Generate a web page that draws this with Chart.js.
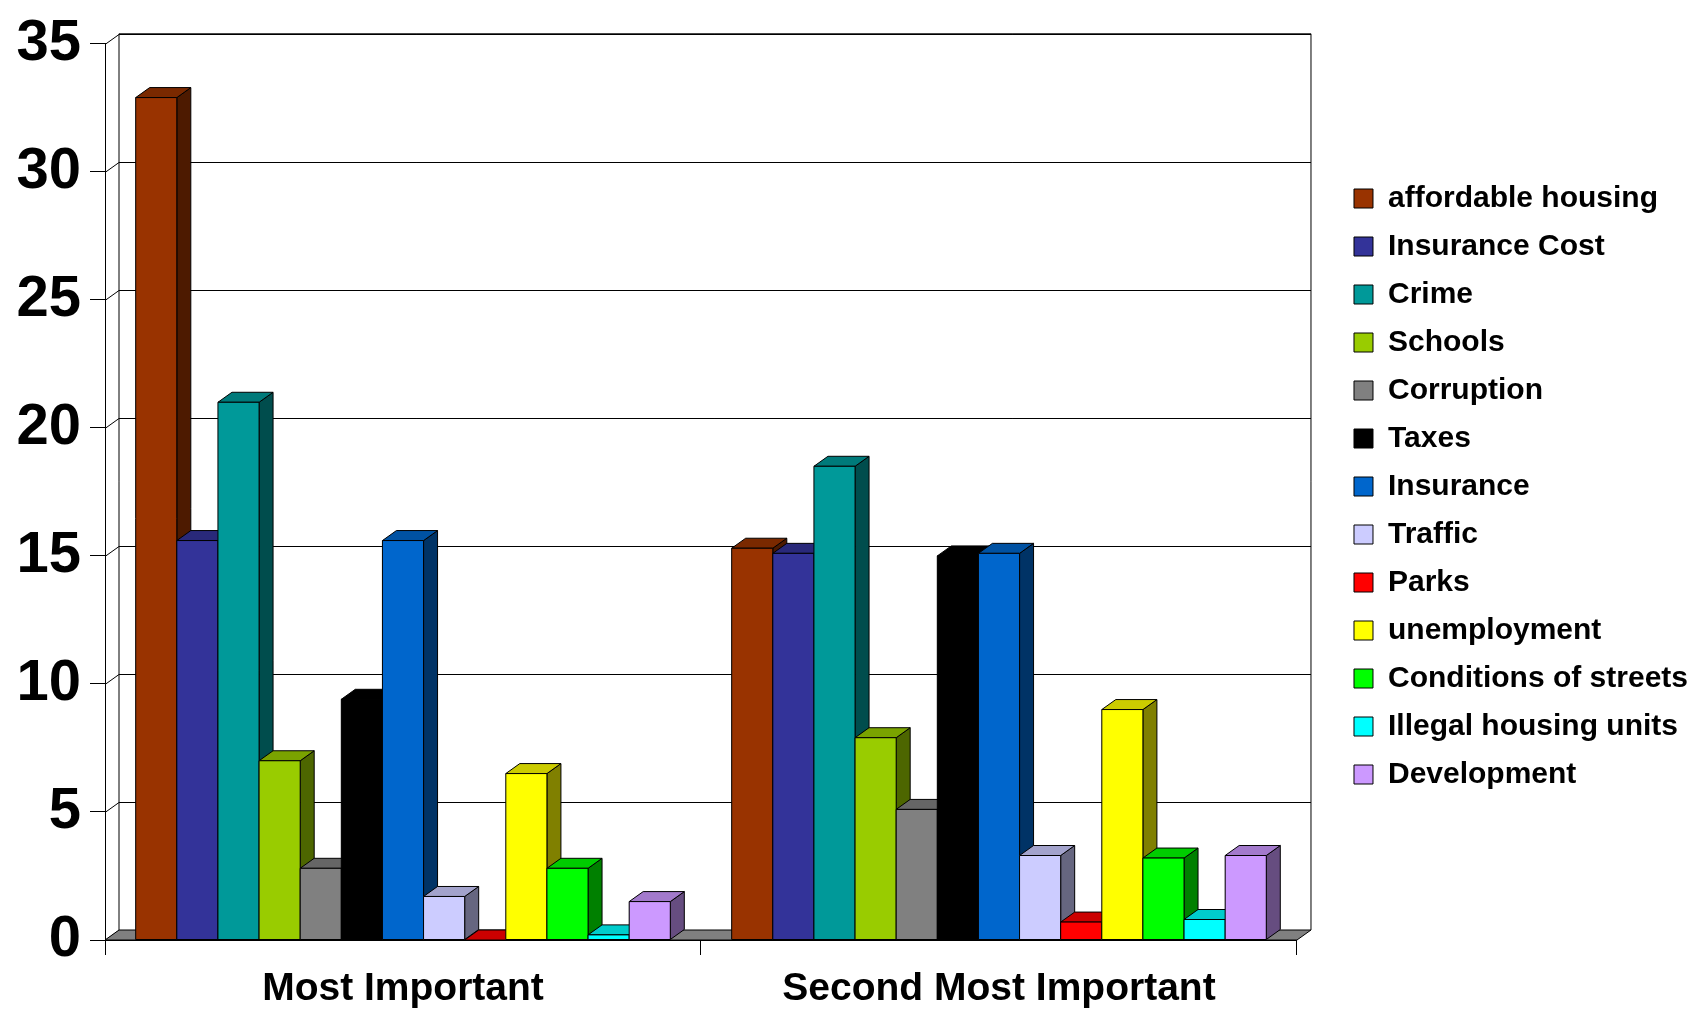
<!DOCTYPE html>
<html>
<head>
<meta charset="utf-8">
<script src="https://cdn.jsdelivr.net/npm/chart.js@4.4.1/dist/chart.umd.min.js"></script>
<style>
  html, body { margin:0; padding:0; background:#ffffff; }
  canvas { display:block; }
</style>
</head>
<body>
<canvas id="myChart" width="1698" height="1011"></canvas>
<script>
//chart values
var categories = ["Most Important", "Second Most Important"];
var issues = ["affordable housing", "Insurance Cost", "Crime", "Schools", "Corruption", "Taxes",
  "Insurance", "Traffic", "Parks", "unemployment", "Conditions of streets", "Illegal housing units", "Development"];
var mostImportant = [32.9, 15.6, 21.0, 7.0, 2.8, 9.4, 15.6, 1.7, 0, 6.5, 2.8, 0.2, 1.5];
var secondMostImportant = [15.3, 15.1, 18.5, 7.9, 5.1, 15.0, 15.1, 3.3, 0.7, 9.0, 3.2, 0.8, 3.3];
var yTickValues = [0, 5, 10, 15, 20, 25, 30, 35];

var issueColors = ["#993300", "#333399", "#009999", "#99cc00", "#808080", "#000000",
  "#0066cc", "#ccccff", "#ff0000", "#ffff00", "#00ff00", "#00ffff", "#cc99ff"];

var fontFamily = "'Liberation Sans', Arial, sans-serif";

//offset of the back wall / bar depth
var depthX = 14;
var depthY = 10;

//darken a hex colour for the top and side faces
function shade(hex, f){
  var n = parseInt(hex.slice(1), 16);
  var r = Math.round(((n >> 16) & 255) * f);
  var g = Math.round(((n >> 8) & 255) * f);
  var b = Math.round((n & 255) * f);
  return "rgb(" + r + "," + g + "," + b + ")";
}

function poly(c, pts, fill){
  c.beginPath();
  c.moveTo(pts[0][0], pts[0][1]);
  for(var k = 1; k < pts.length; k++){
    c.lineTo(pts[k][0], pts[k][1]);
  }
  c.closePath();
  c.fillStyle = fill;
  c.fill();
  c.stroke();
}

//back wall, side wall lines and grey floor
var wallPlugin = {
  id: "wall",
  beforeDraw: function(chart){
    var c = chart.ctx;
    var area = chart.chartArea;
    var yScale = chart.scales.y;
    var bl = area.left + depthX, br = area.right + depthX;
    var bt = area.top - depthY, bb = area.bottom - depthY;
    c.save();
    c.lineWidth = 1;
    c.strokeStyle = "#000";
    yTickValues.forEach(function(v){
      var py = Math.round(yScale.getPixelForValue(v)) + 0.5;
      c.beginPath();
      c.moveTo(area.left, py);
      c.lineTo(bl, py - depthY);
      if(v > 0){
        c.lineTo(br, py - depthY);
      }
      c.stroke();
    });
    c.beginPath();
    c.moveTo(bl, bb);
    c.lineTo(bl, bt);
    c.lineTo(br, bt);
    c.lineTo(br, bb);
    c.stroke();
    poly(c, [[area.left, area.bottom], [bl, bb], [br, bb], [area.right, area.bottom]], "#808080");
    c.restore();
  }
};

//redraw every bar as a box: front, top and right side
var barsPlugin = {
  id: "bars3d",
  afterDatasetsDraw: function(chart){
    var c = chart.ctx;
    c.save();
    c.lineWidth = 1;
    c.strokeStyle = "#000";
    c.lineJoin = "miter";
    chart.data.datasets.forEach(function(ds, i){
      var meta = chart.getDatasetMeta(i);
      var col = issueColors[i];
      meta.data.forEach(function(bar){
        var p = bar.getProps(["x", "y", "base", "width"], true);
        var l = p.x - p.width / 2, r = p.x + p.width / 2;
        var t = Math.min(p.y, p.base), b = Math.max(p.y, p.base);
        poly(c, [[r, t], [r + depthX, t - depthY], [r + depthX, b - depthY], [r, b]], shade(col, 0.5));
        poly(c, [[l, t], [l + depthX, t - depthY], [r + depthX, t - depthY], [r, t]], shade(col, 0.8));
        if(b - t > 0){
          poly(c, [[l, t], [r, t], [r, b], [l, b]], col);
        }
      });
    });
    c.restore();
  }
};

//move the legend column up a little
var legendShift = {
  id: "legendShift",
  afterLayout: function(chart){
    chart.legend.top -= 36;
    chart.legend.bottom -= 36;
  }
};

var datasets = issues.map(function(name, i){
  return {
    label: name,
    data: [mostImportant[i], secondMostImportant[i]],
    backgroundColor: issueColors[i],
    borderColor: "#000",
    borderWidth: 1
  };
});

var ctx = document.getElementById("myChart");
var chart = new Chart(ctx, {
  type: "bar",
  data: {
    labels: categories,
    datasets: datasets
  },
  options: {
    responsive: false,
    animation: false,
    datasets: {
      bar: { categoryPercentage: 0.897, barPercentage: 1.0 }
    },
    layout: { padding: { top: 34, left: 0, right: 0, bottom: 0 } },
    scales: {
      x: {
        grid: { display: true, drawOnChartArea: false, drawTicks: true, tickLength: 15, color: "#000", offset: true },
        border: { display: true, color: "#000", width: 1 },
        ticks: { color: "#000", padding: 11, font: { family: fontFamily, size: 39, weight: "bold" } },
        afterFit: function(axis){ axis.height = 71; }
      },
      y: {
        min: 0,
        max: 35,
        grid: { display: true, drawOnChartArea: false, drawTicks: true, tickLength: 15, color: "#000" },
        border: { display: true, color: "#000", width: 1 },
        ticks: { color: "#000", padding: 9, font: { family: fontFamily, size: 58, weight: "bold" } },
        afterBuildTicks: function(axis){
          axis.ticks = yTickValues.map(function(v){ return { value: v }; });
        },
        afterFit: function(axis){ axis.width = 105; }
      },
      yRight: {
        type: "linear",
        position: "right",
        display: true,
        grid: { display: false },
        border: { display: false },
        ticks: { display: false },
        afterFit: function(axis){ axis.width = 39; }
      }
    },
    plugins: {
      tooltip: { enabled: false },
      legend: {
        position: "right",
        maxWidth: 420,
        labels: {
          color: "#000",
          boxWidth: 19,
          boxHeight: 19,
          padding: 18,
          font: { family: fontFamily, size: 30, weight: "bold" }
        }
      }
    }
  },
  plugins: [wallPlugin, barsPlugin, legendShift]
});
</script>
</body>
</html>
